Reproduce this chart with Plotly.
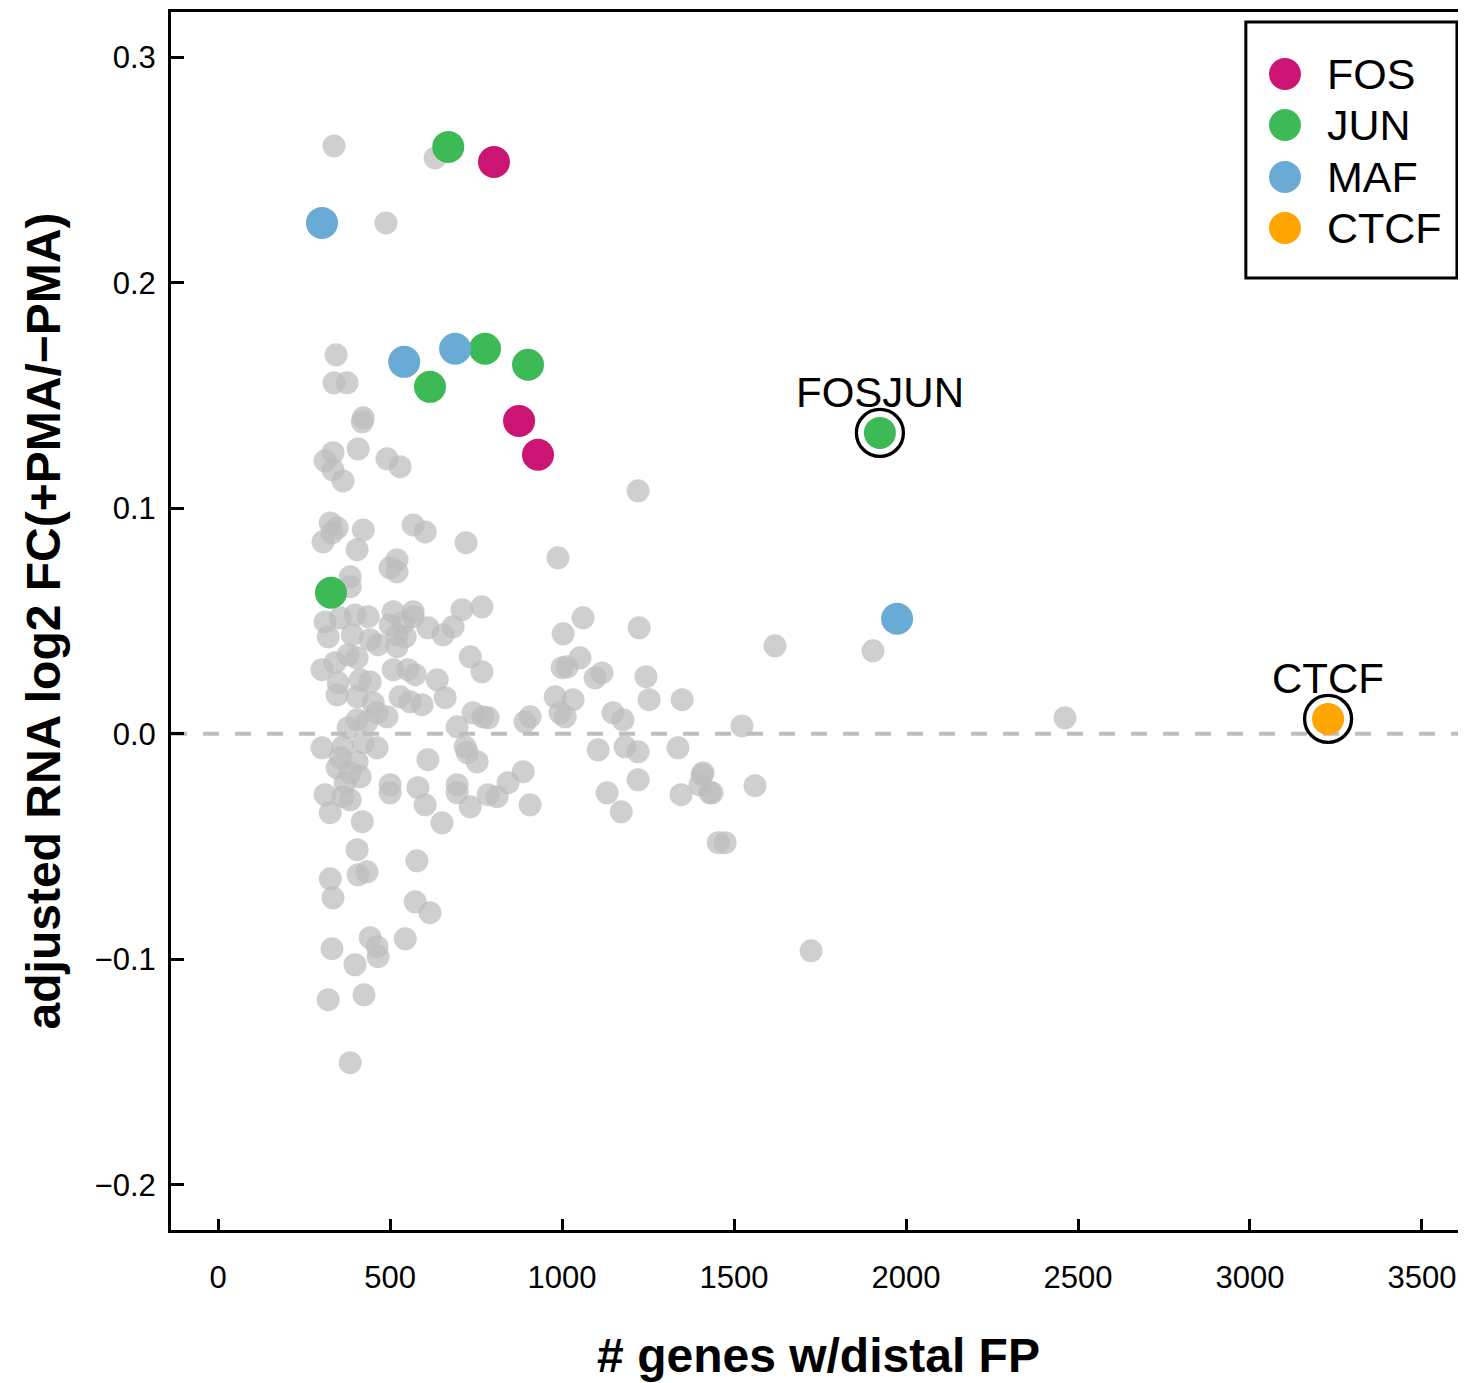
import plotly.graph_objects as go

# ---------------- data ----------------
gray_x = [337, 631, 488, 343, 337, 375, 422, 419, 407, 334, 311, 334, 363, 491, 529,
          326, 346, 305, 331, 422, 404, 567, 602, 721, 520, 500, 520, 384, 384, 509,
          567, 709, 767, 311, 355, 398, 436, 500, 538, 567, 610, 683, 654, 320, 390,
          442, 465, 520, 544, 520, 378, 340, 404, 302, 509, 552, 573, 637, 733, 767,
          349, 413, 442, 346, 404, 451, 529, 558, 593, 660, 404, 378, 462, 491, 433,
          695, 741, 770, 302, 363, 422, 462, 355, 404, 346, 384, 413, 610, 718, 753,
          724, 369, 311, 363, 384, 500, 500, 581, 602, 695, 695, 733, 785, 326, 419,
          651, 404, 326, 407, 433, 578, 334, 573, 616, 442, 462, 465, 544, 331, 398,
          320, 424, 384, 988, 1061, 1003, 1224, 1221, 1052, 1000, 1015, 1096, 1116, 1244, 1253,
          1349, 785, 892, 907, 980, 1032, 994, 1009, 1148, 1177, 1105, 1183, 1221, 1337,
          887, 843, 811, 907, 1131, 1221, 1172, 1346, 1407, 1401, 1430, 1454, 1474, 1619,
          1904, 2462, 1523, 1410, 1436, 1561, 1724]
gray_y = [0.2606, 0.2553, 0.2265, 0.168, 0.1556, 0.1556, 0.1401, 0.1383, 0.1263, 0.1246,
          0.121, 0.117, 0.1121, 0.1219, 0.1184, 0.0935, 0.0913, 0.0851, 0.0891, 0.0904,
          0.0816, 0.0926, 0.0895, 0.0847, 0.0771, 0.0736, 0.0718, 0.0696, 0.0652, 0.0541,
          0.0541, 0.055, 0.0563, 0.0496, 0.0514, 0.0527, 0.0519, 0.0483, 0.0492, 0.0519,
          0.047, 0.0474, 0.0439, 0.043, 0.0439, 0.0417, 0.0395, 0.0386, 0.043, 0.0439,
          0.035, 0.0315, 0.0337, 0.0284, 0.0284, 0.0284, 0.0262, 0.0239, 0.0341, 0.0275,
          0.0226, 0.0239, 0.023, 0.0173, 0.0164, 0.0137, 0.0164, 0.0142, 0.0129, 0.016,
          0.0062, 0.0027, 0.0093, 0.0075, 0.0053, 0.0031, 0.0093, 0.0075, -0.0062, -0.0058,
          -0.004, -0.0062, -0.0106, -0.0124, -0.0151, -0.0173, -0.0191, -0.0115, -0.0058, -0.0124,
          -0.0084, -0.0217, -0.027, -0.0279, -0.0293, -0.0226, -0.0262, -0.0239, -0.0315, -0.0226,
          -0.0262, -0.0324, -0.027, -0.035, -0.039, -0.0395, -0.0514, -0.0643, -0.0625, -0.0612,
          -0.0563, -0.0727, -0.0745, -0.0793, -0.0904, -0.0944, -0.0988, -0.0909, -0.0953, -0.1024,
          -0.1179, -0.1157, -0.1458, 0.078, 0.0514, 0.0443, 0.047, 0.1077, 0.0337, 0.0293,
          0.0297, 0.0248, 0.027, 0.0253, 0.0151, 0.0151, 0.0071, 0.0053, 0.0075, 0.0164,
          0.0151, 0.0093, 0.0075, 0.0093, 0.0062, -0.0071, -0.0058, -0.008, -0.0062, -0.0168,
          -0.0217, -0.0279, -0.0315, -0.0262, -0.0204, -0.0346, -0.027, -0.0182, -0.0226, -0.0262,
          -0.0483, -0.0483, 0.039, 0.0368, 0.0071, 0.0035, -0.0173, -0.0262, -0.023, -0.0962]

fos_x = [802, 875, 930]
fos_y = [0.2535, 0.1387, 0.1237]
jun_x = [669, 776, 901, 616, 328, 1924]
jun_y = [0.2602, 0.1707, 0.1636, 0.1538, 0.0625, 0.1334]
maf_x = [302, 541, 689, 1974]
maf_y = [0.2265, 0.1649, 0.1707, 0.051]
ctcf_x = [3227]
ctcf_y = [0.0066]

groups = ["FOS", "JUN", "MAF", "CTCF"]
group_colors = ["#CC1475", "#3DBA55", "#69ABD4", "#FFA500"]

highlight_labels = ["FOSJUN", "CTCF"]
highlight_x = [jun_x[5], ctcf_x[0]]
highlight_y = [jun_y[5], ctcf_y[0]]

x_ticks = [0, 500, 1000, 1500, 2000, 2500, 3000, 3500]
y_ticks = [-0.2, -0.1, 0.0, 0.1, 0.2, 0.3]
y_ticktext = ["\u22120.2", "\u22120.1", "0.0", "0.1", "0.2", "0.3"]

FONT = "Liberation Sans, Arial, Helvetica, sans-serif"

# ---------------- figure ----------------
fig = go.Figure()

fig.add_trace(go.Scatter(x=gray_x, y=gray_y, mode="markers", showlegend=False,
                         marker=dict(size=23, color="rgba(188,188,188,0.72)", line=dict(width=0)),
                         hoverinfo="skip"))

for name, xs, ys, col in zip(groups, [fos_x, jun_x, maf_x, ctcf_x], [fos_y, jun_y, maf_y, ctcf_y], group_colors):
    fig.add_trace(go.Scatter(x=xs, y=ys, mode="markers", name=name, showlegend=False,
                             marker=dict(size=32, color=col, line=dict(width=0))))

fig.add_trace(go.Scatter(x=highlight_x, y=highlight_y, mode="markers", showlegend=False,
                         marker=dict(size=47, symbol="circle-open", color="black",
                                     line=dict(width=3.3, color="black"))))

for lab, hx, hy in zip(highlight_labels, highlight_x, highlight_y):
    fig.add_annotation(x=hx, y=hy, text=lab, showarrow=False, yshift=40,
                       xanchor="center", yanchor="middle",
                       font=dict(family=FONT, size=42, color="black"))

# zero reference line
fig.add_shape(type="line", xref="paper", x0=0, x1=1, yref="y", y0=0, y1=0,
              line=dict(color="#BDBDBD", width=4, dash="16px,16px"), layer="below")

# manual legend (box, symbols, labels)
fig.add_shape(type="rect", xref="paper", yref="paper", x0=0.830, x1=0.993, y0=0.7816, y1=0.9918,
              line=dict(color="black", width=3), fillcolor="white", layer="above")
leg_y = [0.9491, 0.9072, 0.8645, 0.8227]
rx, ry = 0.01236, 0.01314
for name, col, ly in zip(groups, group_colors, leg_y):
    fig.add_shape(type="circle", xref="paper", yref="paper",
                  x0=0.8602 - rx, x1=0.8602 + rx, y0=ly - ry, y1=ly + ry,
                  fillcolor=col, line=dict(width=0), layer="above")
    fig.add_annotation(xref="paper", yref="paper", x=0.8911, y=ly, text=name, showarrow=False,
                       xanchor="left", yanchor="middle",
                       font=dict(family=FONT, size=43, color="black"))

# the page body has an 8px default margin, so the figure is sized to fit the window
fig.update_layout(
    width=1458, height=1375,
    margin=dict(l=163, r=0, t=4, b=153, autoexpand=False),
    plot_bgcolor="white", paper_bgcolor="white",
    font=dict(family=FONT, color="black"),
    showlegend=False,
    xaxis=dict(range=[-137, 3628], tickvals=x_ticks, ticks="inside", ticklen=11, tickwidth=3,
               tickcolor="black", showline=True, linecolor="black", linewidth=3, mirror=True,
               showgrid=False, zeroline=False, tickfont=dict(size=31, family=FONT),
               ticklabelstandoff=18, automargin=False,
               title=dict(text="<b># genes w/distal FP</b>", font=dict(size=48, family=FONT), standoff=45)),
    yaxis=dict(range=[-0.22, 0.32], tickvals=y_ticks, ticktext=y_ticktext, ticks="inside",
               ticklen=13, tickwidth=3, tickcolor="black", showline=True, linecolor="black",
               linewidth=3, mirror=False, showgrid=False, zeroline=False,
               tickfont=dict(size=31, family=FONT), ticklabelstandoff=6, automargin=False,
               title=dict(text="<b>adjusted RNA log2 FC(+PMA/\u2212PMA)</b>",
                          font=dict(size=48, family=FONT), standoff=19)),
)

fig.write_html("out.html")
